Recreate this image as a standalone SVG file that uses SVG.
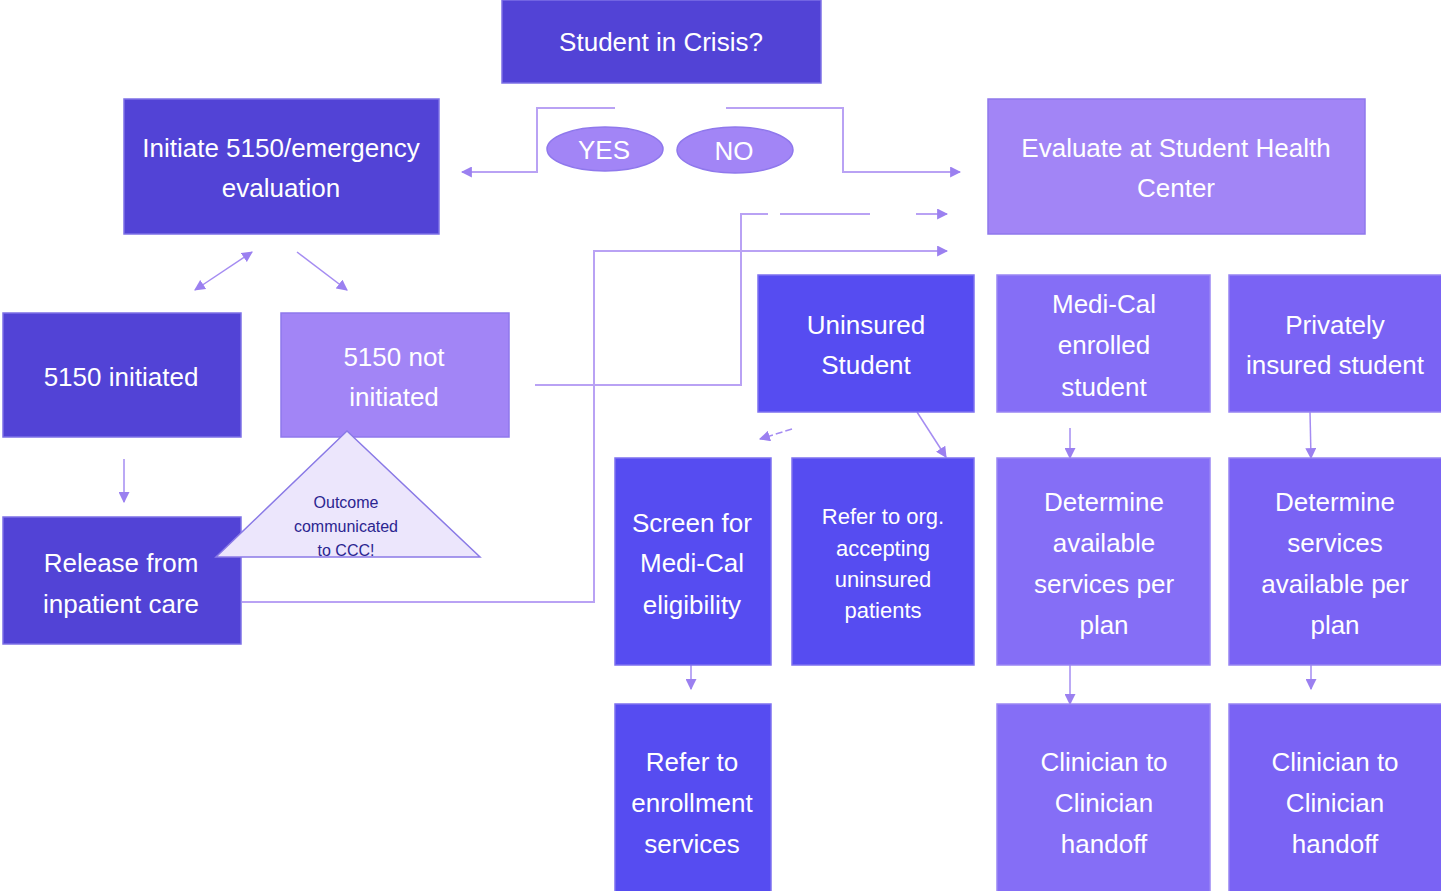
<svg xmlns="http://www.w3.org/2000/svg" width="1441" height="891" viewBox="0 0 1441 891">
<defs>
<style>
.t{font-family:"Liberation Sans",Arial,sans-serif;font-size:26px;fill:#ffffff;text-anchor:middle}
.s{font-size:22px}
.tri{font-family:"Liberation Sans",Arial,sans-serif;font-size:16px;fill:#2b2590;text-anchor:middle}
.dark{fill:#5243d6;stroke:#7d70e6;stroke-width:1.5}
.light{fill:#a285f6;stroke:#8f78ec;stroke-width:1.5}
.blue{fill:#564cf1;stroke:#7d70f0;stroke-width:1.5}
.mc{fill:#856ef6;stroke:#9a86f4;stroke-width:1.5}
.pv{fill:#7a63f4;stroke:#9784f2;stroke-width:1.5}
.c{fill:none;stroke:#b9a2f4;stroke-width:2}
.ca{fill:none;stroke:#a58cf2;stroke-width:1.5}
</style>
<marker id="ah" viewBox="0 0 10 10" refX="9" refY="5" markerWidth="11" markerHeight="11" markerUnits="userSpaceOnUse" orient="auto-start-reverse">
<path d="M0,0 L10,5 L0,10 z" fill="#9b80f0"/>
</marker>
</defs>

<g id="connectors">
<path class="c" d="M615,108 H537 V172 H462" marker-end="url(#ah)"/>
<path class="c" d="M726,108 H843 V172 H960" marker-end="url(#ah)"/>
<path class="c" d="M535,385 H741 V214 H768 M780,214 H870 M916,214 H947" marker-end="url(#ah)"/>
<path class="c" d="M242,602 H594 V251 H947" marker-end="url(#ah)"/>
<path class="ca" d="M252,252 L195,290" marker-start="url(#ah)" marker-end="url(#ah)"/>
<path class="ca" d="M297,252 L347,290" marker-end="url(#ah)"/>
<path class="ca" d="M124,459 V502" marker-end="url(#ah)"/>
<path class="ca" d="M792,429 L760,439" stroke-dasharray="7,3" marker-end="url(#ah)"/>
<path class="ca" d="M917,412 L946,457" marker-end="url(#ah)"/>
<path class="ca" d="M1070,428 V458" marker-end="url(#ah)"/>
<path class="ca" d="M1310,412 L1311,458" marker-end="url(#ah)"/>
<path class="ca" d="M691,665 V689" marker-end="url(#ah)"/>
<path class="ca" d="M1070,665 V704" marker-end="url(#ah)"/>
<path class="ca" d="M1311,665 V689" marker-end="url(#ah)"/>
</g>

<g id="crisis">
<rect class="dark" x="502" y="0" width="319" height="83"/>
<text class="t" x="661" y="51">Student in Crisis?</text>
</g>

<g id="yes">
<ellipse class="light" cx="605" cy="149" rx="58" ry="22"/>
<text class="t" x="604" y="159">YES</text>
</g>

<g id="no">
<ellipse class="light" cx="735" cy="150" rx="58" ry="23"/>
<text class="t" x="734" y="160">NO</text>
</g>

<g id="initiate">
<rect class="dark" x="124" y="99" width="315" height="135"/>
<text class="t" x="281" y="157">Initiate 5150/emergency</text>
<text class="t" x="281" y="197">evaluation</text>
</g>

<g id="evaluate">
<rect class="light" x="988" y="99" width="377" height="135"/>
<text class="t" x="1176" y="157">Evaluate at Student Health</text>
<text class="t" x="1176" y="197">Center</text>
</g>

<g id="initiated">
<rect class="dark" x="3" y="313" width="238" height="124"/>
<text class="t" x="121" y="386">5150 initiated</text>
</g>

<g id="notinitiated">
<rect class="light" x="281" y="313" width="228" height="124"/>
<text class="t" x="394" y="366">5150 not</text>
<text class="t" x="394" y="406">initiated</text>
</g>

<g id="release">
<rect class="dark" x="3" y="517" width="238" height="127"/>
<text class="t" x="121" y="572">Release from</text>
<text class="t" x="121" y="613">inpatient care</text>
</g>

<g id="outcome">
<polygon points="347,431 216,557 480,557" fill="#ece6fc" stroke="#8a7ae6" stroke-width="1.5"/>
<text class="tri" x="346" y="508">Outcome</text>
<text class="tri" x="346" y="532">communicated</text>
<text class="tri" x="346" y="556">to CCC!</text>
</g>

<g id="uninsured">
<rect class="blue" x="758" y="275" width="216" height="137"/>
<text class="t" x="866" y="334">Uninsured</text>
<text class="t" x="866" y="374">Student</text>
</g>

<g id="medical">
<rect class="mc" x="997" y="275" width="213" height="137"/>
<text class="t" x="1104" y="313">Medi-Cal</text>
<text class="t" x="1104" y="354">enrolled</text>
<text class="t" x="1104" y="396">student</text>
</g>

<g id="private">
<rect class="pv" x="1229" y="275" width="213" height="137"/>
<text class="t" x="1335" y="334">Privately</text>
<text class="t" x="1335" y="374">insured student</text>
</g>

<g id="screen">
<rect class="blue" x="615" y="458" width="156" height="207"/>
<text class="t" x="692" y="532">Screen for</text>
<text class="t" x="692" y="572">Medi-Cal</text>
<text class="t" x="692" y="614">eligibility</text>
</g>

<g id="referorg">
<rect class="blue" x="792" y="458" width="182" height="207"/>
<text class="t s" x="883" y="524">Refer to org.</text>
<text class="t s" x="883" y="556">accepting</text>
<text class="t s" x="883" y="587">uninsured</text>
<text class="t s" x="883" y="618">patients</text>
</g>

<g id="determine1">
<rect class="mc" x="997" y="458" width="213" height="207"/>
<text class="t" x="1104" y="511">Determine</text>
<text class="t" x="1104" y="552">available</text>
<text class="t" x="1104" y="593">services per</text>
<text class="t" x="1104" y="634">plan</text>
</g>

<g id="determine2">
<rect class="pv" x="1229" y="458" width="213" height="207"/>
<text class="t" x="1335" y="511">Determine</text>
<text class="t" x="1335" y="552">services</text>
<text class="t" x="1335" y="593">available per</text>
<text class="t" x="1335" y="634">plan</text>
</g>

<g id="enroll">
<rect class="blue" x="615" y="704" width="156" height="190"/>
<text class="t" x="692" y="771">Refer to</text>
<text class="t" x="692" y="812">enrollment</text>
<text class="t" x="692" y="853">services</text>
</g>

<g id="handoff1">
<rect class="mc" x="997" y="704" width="213" height="190"/>
<text class="t" x="1104" y="771">Clinician to</text>
<text class="t" x="1104" y="812">Clinician</text>
<text class="t" x="1104" y="853">handoff</text>
</g>

<g id="handoff2">
<rect class="pv" x="1229" y="704" width="213" height="190"/>
<text class="t" x="1335" y="771">Clinician to</text>
<text class="t" x="1335" y="812">Clinician</text>
<text class="t" x="1335" y="853">handoff</text>
</g>
</svg>
